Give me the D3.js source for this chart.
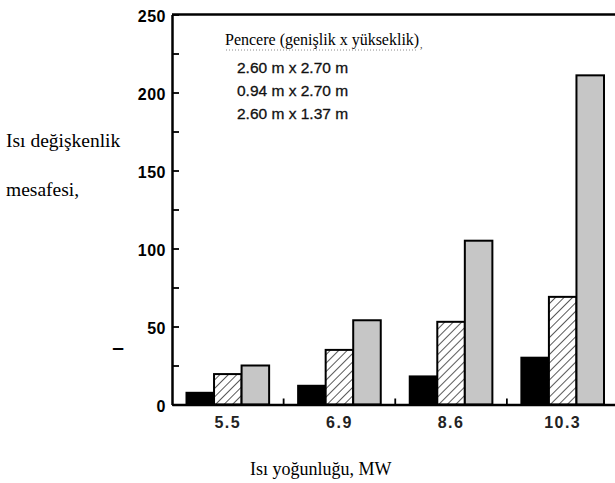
<!DOCTYPE html>
<html>
<head>
<meta charset="utf-8">
<style>
  body { margin: 0; background: #fff; }
  svg { display: block; }
</style>
</head>
<body>
<svg width="615" height="483"></svg>
<script src="https://d3js.org/d3.v7.min.js"></script>
<script>
  var categories = ["5.5", "6.9", "8.6", "10.3"];
  var seriesNames = ["2.60 m x 2.70 m", "0.94 m x 2.70 m", "2.60 m x 1.37 m"];
  var wide = [7.5, 12, 18, 30];       // 2.60 m x 2.70 m
  var narrow = [19.5, 35, 53, 69];    // 0.94 m x 2.70 m
  var low = [25, 54, 105, 211];       // 2.60 m x 1.37 m
  var yTicks = [0, 25, 50, 75, 100, 125, 150, 175, 200, 225, 250];

  var svg = d3.select("svg"),
      margin = {top: 14.5, left: 172},
      width = 446.5,
      height = 390,
      g = svg.append("g").attr("transform", "translate(" + margin.left + "," + margin.top + ")");

  var data = categories.map(function(c, i) {
    return {cat: c, values: [wide[i], narrow[i], low[i]]};
  });

  // hatch pattern for the middle series
  var defs = svg.append("defs");
  var pat = defs.append("pattern")
      .attr("id", "hatch")
      .attr("patternUnits", "userSpaceOnUse")
      .attr("width", 6)
      .attr("height", 6)
      .attr("patternTransform", "rotate(45)");
  pat.append("rect").attr("width", 6).attr("height", 6).attr("fill", "#fff");
  pat.append("line")
      .attr("x1", 0).attr("y1", 0).attr("x2", 0).attr("y2", 6)
      .attr("stroke", "#111")
      .attr("stroke-width", 1.4);

  var fills = ["#000", "url(#hatch)", "#c6c6c6"];

  var x0 = d3.scaleBand().domain(categories).range([0, width]).padding(0);
  var x1 = d3.scaleBand().domain(d3.range(3))
      .range([14.5, x0.bandwidth() - 14.5]).padding(0);
  var y = d3.scaleLinear().domain([0, 250]).range([height, 0]);

  // bars
  var groups = g.selectAll(".grp")
    .data(data)
    .enter().append("g")
      .attr("class", "grp")
      .attr("transform", function(d) { return "translate(" + x0(d.cat) + ",0)"; });

  groups.selectAll("rect")
    .data(function(d) { return d.values; })
    .enter().append("rect")
      .attr("x", function(d, i) { return x1(i); })
      .attr("y", function(d) { return y(d); })
      .attr("width", x1.bandwidth())
      .attr("height", function(d) { return y(0) - y(d); })
      .attr("fill", function(d, i) { return fills[i]; })
      .attr("stroke", "#000")
      .attr("stroke-width", 2);

  // y axis, ticks pointing inward
  var yAxis = g.append("g")
      .call(d3.axisLeft(y)
        .tickValues(yTicks)
        .tickSize(-7)
        .tickSizeOuter(0)
        .tickPadding(6)
        .tickFormat(function(d) { return d % 50 === 0 ? d : ""; }));
  yAxis.select(".domain").attr("stroke-width", 2.5);
  yAxis.selectAll(".tick line").attr("stroke-width", 1.8);
  yAxis.selectAll("text")
      .attr("font-family", "'Liberation Sans', Arial, sans-serif")
      .attr("font-weight", "bold")
      .attr("font-size", 16)
      .attr("letter-spacing", 0.5)
      .attr("fill", "#000")
      .attr("dy", "0.42em");

  // top frame
  g.append("line")
      .attr("x1", 0).attr("x2", width)
      .attr("y1", y(250)).attr("y2", y(250))
      .attr("stroke", "#000")
      .attr("stroke-width", 2.5);

  // x axis
  var xAxis = g.append("g")
      .attr("transform", "translate(0," + height + ")")
      .call(d3.axisBottom(x0).tickSize(0).tickPadding(12));
  xAxis.select(".domain").attr("stroke-width", 2.5);
  xAxis.selectAll("text")
      .attr("font-family", "'Liberation Sans', Arial, sans-serif")
      .attr("font-weight", "bold")
      .attr("font-size", 16)
      .attr("letter-spacing", 1.5)
      .attr("fill", "#222");

  // small separators between groups
  g.selectAll(".sep")
    .data(categories.slice(1))
    .enter().append("line")
      .attr("x1", function(d) { return x0(d); })
      .attr("x2", function(d) { return x0(d); })
      .attr("y1", height)
      .attr("y2", height - 6)
      .attr("stroke", "#000")
      .attr("stroke-width", 1.8);

  // legend (text only)
  svg.append("text")
      .attr("x", 225).attr("y", 45)
      .attr("font-family", "'Liberation Serif', 'Times New Roman', serif")
      .attr("font-size", 16)
      .attr("fill", "#000")
      .text("Pencere (genişlik x yükseklik)");
  svg.append("line")
      .attr("x1", 226).attr("x2", 417)
      .attr("y1", 50).attr("y2", 50)
      .attr("stroke", "#888")
      .attr("stroke-width", 1)
      .attr("stroke-dasharray", "1,2");
  svg.append("text")
      .attr("x", 420).attr("y", 48)
      .attr("font-family", "'Liberation Serif', serif")
      .attr("font-size", 10)
      .attr("fill", "#333")
      .text(",");

  svg.selectAll(".leg")
    .data(seriesNames)
    .enter().append("text")
      .attr("class", "leg")
      .attr("x", 237)
      .attr("y", function(d, i) { return 73 + i * 23; })
      .attr("font-family", "'Liberation Sans', Arial, sans-serif")
      .attr("font-size", 15.5)
      .attr("fill", "#111")
      .attr("stroke", "#111")
      .attr("stroke-width", 0.3)
      .text(function(d) { return d; });

  // axis titles
  var serif = "'Liberation Serif', 'Times New Roman', serif";
  svg.append("text")
      .attr("x", 6).attr("y", 147)
      .attr("font-family", serif)
      .attr("font-size", 19.5)
      .text("Isı değişkenlik");
  svg.append("text")
      .attr("x", 6).attr("y", 196)
      .attr("font-family", serif)
      .attr("font-size", 19.5)
      .text("mesafesi,");
  svg.append("text")
      .attr("x", 118).attr("y", 354)
      .attr("text-anchor", "middle")
      .attr("font-family", "'Liberation Sans', Arial, sans-serif")
      .attr("font-weight", "bold")
      .attr("font-size", 21)
      .text("–");
  svg.append("text")
      .attr("x", 250).attr("y", 475)
      .attr("font-family", serif)
      .attr("font-size", 18)
      .text("Isı yoğunluğu, MW");
</script>
</body>
</html>
